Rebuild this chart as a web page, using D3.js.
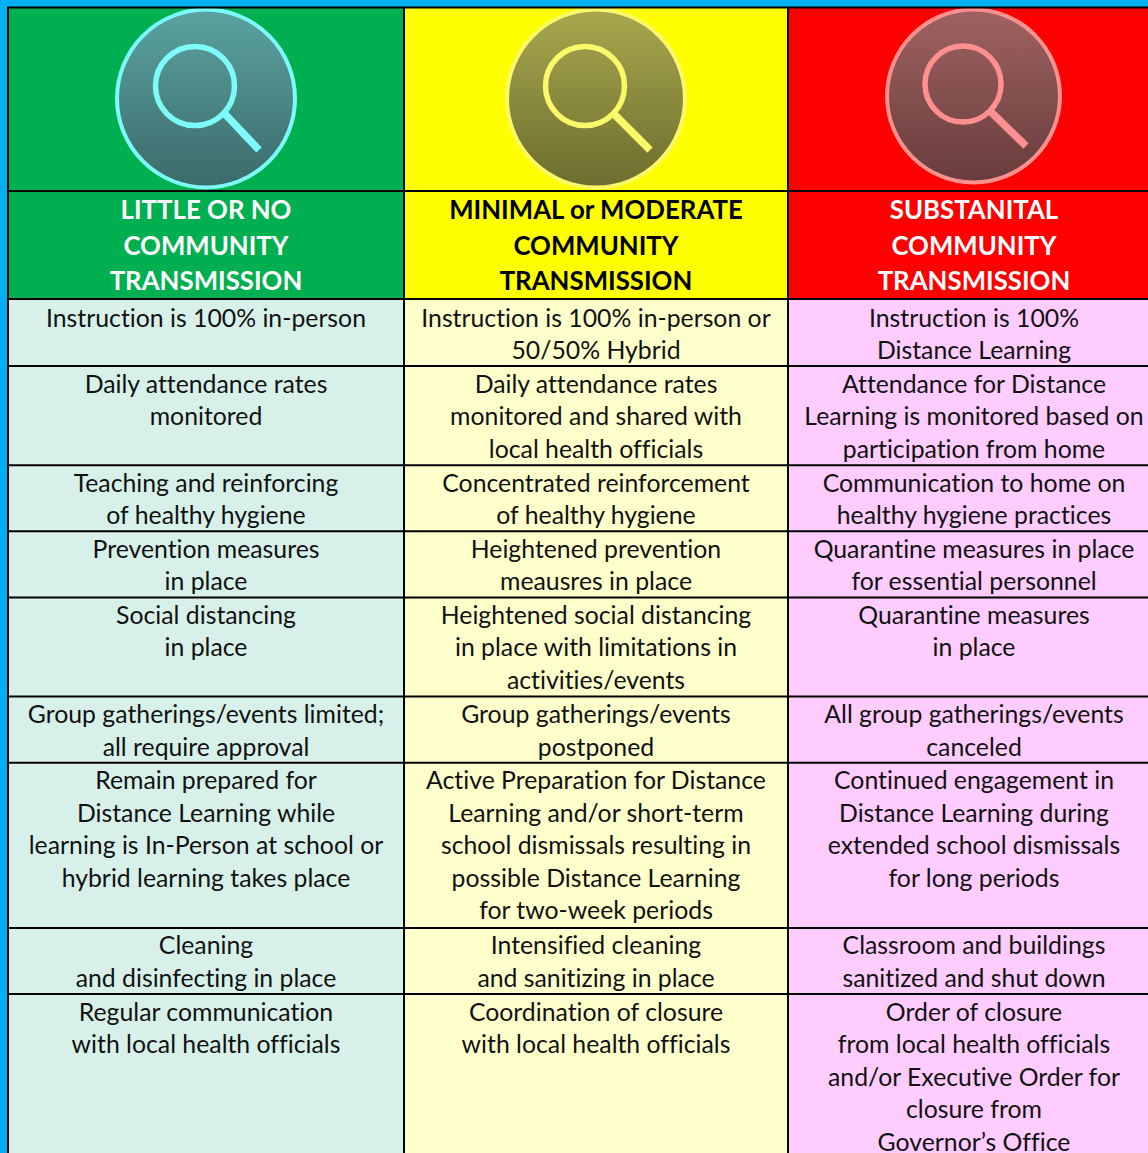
<!DOCTYPE html>
<html>
<head>
<meta charset="utf-8">
<script src="https://cdn.jsdelivr.net/npm/d3@7"></script>
<style>
  html, body { margin: 0; padding: 0; background: #00b0f0; overflow: hidden; }
  svg { display: block; }
  text { font-family: Lato, "Open Sans", sans-serif; text-anchor: middle; font-variant-ligatures: none; }
</style>
</head>
<body>
<div id="chart"></div>
<script>
const levels = ["low", "moderate", "substantial"];

const headers = [
  ["LITTLE OR NO", "COMMUNITY", "TRANSMISSION"],
  ["MINIMAL or MODERATE", "COMMUNITY", "TRANSMISSION"],
  ["SUBSTANITAL", "COMMUNITY", "TRANSMISSION"],
];

const rowLines = [2, 3, 2, 2, 3, 2, 5, 2, 5];

const lowRows = [
  ["Instruction is 100% in-person"],
  ["Daily attendance rates", "monitored"],
  ["Teaching and reinforcing", "of healthy hygiene"],
  ["Prevention measures", "in place"],
  ["Social distancing", "in place"],
  ["Group gatherings/events limited;", "all require approval"],
  ["Remain prepared for", "Distance Learning while", "learning is In-Person at school or", "hybrid learning takes place"],
  ["Cleaning", "and disinfecting in place"],
  ["Regular communication", "with local health officials"],
];

const moderateRows = [
  ["Instruction is 100% in-person or", "50/50% Hybrid"],
  ["Daily attendance rates", "monitored and shared with", "local health officials"],
  ["Concentrated reinforcement", "of healthy hygiene"],
  ["Heightened prevention", "meausres in place"],
  ["Heightened social distancing", "in place with limitations in", "activities/events"],
  ["Group gatherings/events", "postponed"],
  ["Active Preparation for Distance", "Learning and/or short-term", "school dismissals resulting in", "possible Distance Learning", "for two-week periods"],
  ["Intensified cleaning", "and sanitizing in place"],
  ["Coordination of closure", "with local health officials"],
];

const substantialRows = [
  ["Instruction is 100%", "Distance Learning"],
  ["Attendance for Distance", "Learning is monitored based on", "participation from home"],
  ["Communication to home on", "healthy hygiene practices"],
  ["Quarantine measures in place", "for essential personnel"],
  ["Quarantine measures", "in place"],
  ["All group gatherings/events", "canceled"],
  ["Continued engagement in", "Distance Learning during", "extended school dismissals", "for long periods"],
  ["Classroom and buildings", "sanitized and shut down"],
  ["Order of closure", "from local health officials", "and/or Executive Order for", "closure from", "Governor\u2019s Office"],
];

const columnRows = [lowRows, moderateRows, substantialRows];

const headColor = ["#00af50", "#ffff00", "#ff0000"];
const headText = ["#ffffff", "#000000", "#ffffff"];
const cellColor = ["#d7f1ea", "#ffffcc", "#ffccff"];
const ringColor = ["#7dfbfb", "#f9f96a", "#ff9090"];
const gradTop = ["#5aa3a0", "#a8a84e", "#a06262"];
const gradBottom = ["#3c6a6a", "#6c6c2e", "#683c3c"];

const width = 1148;
const height = 1153;

// column edges and centres
const colEdges = [8, 404, 788, 1160];
const colCenter = [206, 596, 974];

// rows are laid out from their line counts
const lineScale = d3.scaleLinear().domain([0, 21]).range([300, 994]);
let cum = 0;
const rowTops = rowLines.map(n => { const top = lineScale(cum); cum += n; return top; });
const lineStep = 32.5;

const svg = d3.select("#chart").append("svg")
  .attr("width", width)
  .attr("height", height);

const defs = svg.append("defs");
levels.forEach((l, i) => {
  const g = defs.append("linearGradient")
    .attr("id", "grad-" + l)
    .attr("x1", 0).attr("y1", 0).attr("x2", 0).attr("y2", 1);
  g.append("stop").attr("offset", "0%").attr("stop-color", gradTop[i]);
  g.append("stop").attr("offset", "100%").attr("stop-color", gradBottom[i]);
});

// Column fills
const col = svg.selectAll("g.col")
  .data(levels)
  .join("g")
  .attr("class", "col");

col.append("rect")
  .attr("x", (d, i) => colEdges[i])
  .attr("y", 8)
  .attr("width", (d, i) => colEdges[i + 1] - colEdges[i])
  .attr("height", 291)
  .attr("fill", (d, i) => headColor[i]);

col.append("rect")
  .attr("x", (d, i) => colEdges[i])
  .attr("y", 299)
  .attr("width", (d, i) => colEdges[i + 1] - colEdges[i])
  .attr("height", height - 299)
  .attr("fill", (d, i) => cellColor[i]);

// Magnifier badges
const iconGeom = [
  { cx: 206, cy: 98.5, r: 89, lx: 195, ly: 86, lr: 39.5, hx1: 225, hy1: 114, hx2: 259, hy2: 150 },
  { cx: 596, cy: 98.5, r: 89, lx: 585, ly: 86, lr: 39.5, hx1: 614, hy1: 114, hx2: 650, hy2: 150 },
  { cx: 973.5, cy: 96, r: 86.5, lx: 963, ly: 84, lr: 38, hx1: 991, hy1: 112, hx2: 1026, hy2: 146 },
];

const icon = svg.selectAll("g.icon")
  .data(iconGeom)
  .join("g")
  .attr("class", "icon");

icon.append("circle")
  .attr("cx", d => d.cx).attr("cy", d => d.cy).attr("r", d => d.r)
  .attr("fill", (d, i) => `url(#grad-${levels[i]})`)
  .attr("stroke", (d, i) => ringColor[i])
  .attr("stroke-width", 4);

icon.append("circle")
  .attr("cx", d => d.lx).attr("cy", d => d.ly).attr("r", d => d.lr)
  .attr("fill", "none")
  .attr("stroke", (d, i) => ringColor[i])
  .attr("stroke-width", 5.5);

icon.append("line")
  .attr("x1", d => d.hx1).attr("y1", d => d.hy1)
  .attr("x2", d => d.hx2).attr("y2", d => d.hy2)
  .attr("stroke", (d, i) => ringColor[i])
  .attr("stroke-width", 7.5);

// Grid lines
const hLines = [7.5, 191, 299].concat(rowTops.slice(1));
svg.append("g")
  .selectAll("line")
  .data(hLines)
  .join("line")
  .attr("x1", 7).attr("x2", width)
  .attr("y1", d => d).attr("y2", d => d)
  .attr("stroke", "#000")
  .attr("stroke-width", 2);

svg.append("g")
  .selectAll("line")
  .data(colEdges.slice(0, 3))
  .join("line")
  .attr("x1", d => d).attr("x2", d => d)
  .attr("y1", 7).attr("y2", height)
  .attr("stroke", "#000")
  .attr("stroke-width", 2);

// Header text
const headerY = [219, 255, 290];
svg.append("g")
  .selectAll("g")
  .data(headers)
  .join("g")
  .each(function(lines, c) {
    d3.select(this).selectAll("text")
      .data(lines)
      .join("text")
      .attr("x", colCenter[c])
      .attr("y", (d, i) => headerY[i])
      .attr("font-size", 25.8)
      .attr("font-weight", 700)
      .attr("fill", headText[c])
      .text(d => d);
  });

// Body text
columnRows.forEach((rows, c) => {
  const g = svg.append("g");
  rows.forEach((lines, r) => {
    g.append("g")
      .selectAll("text")
      .data(lines)
      .join("text")
      .attr("x", colCenter[c])
      .attr("y", (d, i) => rowTops[r] + 26.5 + i * lineStep)
      .attr("font-size", 24.8)
      .attr("fill", "#111")
      .text(d => d);
  });
});
</script>
</body>
</html>
